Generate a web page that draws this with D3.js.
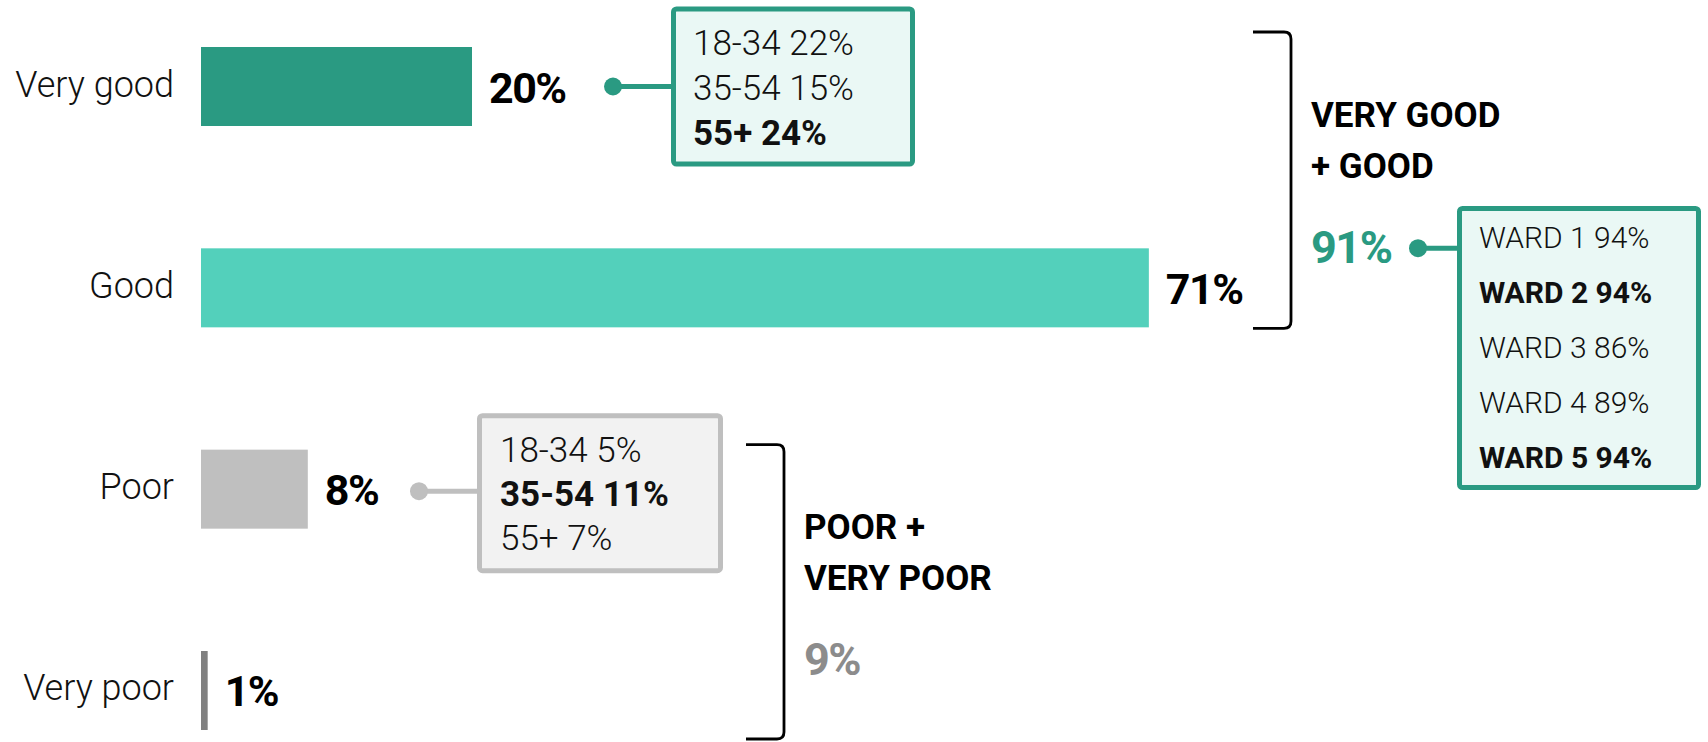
<!DOCTYPE html>
<html>
<head>
<meta charset="utf-8">
<script src="https://cdn.jsdelivr.net/npm/d3@7"></script>
<style>
  body { margin: 0; background: #fff; }
  svg text { font-family: "Roboto", "Noto Sans", sans-serif; }
</style>
</head>
<body>
<svg id="chart" width="1708" height="742"></svg>
<script>
// Data
const categories = ["Very good", "Good", "Poor", "Very poor"];
const values = [20.3, 71, 8, 0.5];
const valueLabels = ["20%", "71%", "8%", "1%"];
const barColours = ["#2a9a82", "#53d0bb", "#bfbfbf", "#808080"];

const ageGroups = ["18-34", "35-54", "55+"];
const goodByAge = [22, 15, 24];
const goodAgeBold = [false, false, true];
const poorByAge = [5, 11, 7];
const poorAgeBold = [false, true, false];

const wards = ["WARD 1", "WARD 2", "WARD 3", "WARD 4", "WARD 5"];
const goodByWard = [94, 94, 86, 89, 94];
const wardBold = [false, true, false, false, true];

const groupTitles = [["VERY GOOD", "+ GOOD"], ["POOR +", "VERY POOR"]];
const groupTotals = [91, 9];
const groupColours = ["#2a9a82", "#8c8c8c"];

// Layout
const teal = "#2a9a82";
const grey = "#bfbfbf";

const svg = d3.select("#chart");

const x = d3.scaleLinear().domain([0, 100]).range([201, 1536]);
const y = d3.scaleBand().domain(categories).range([47, 730]).paddingInner(0.6076).paddingOuter(0);
const bw = y.bandwidth();
const yc = c => y(c) + bw / 2;

// Bars
svg.append("g").selectAll("rect")
  .data(categories)
  .join("rect")
  .attr("x", x(0))
  .attr("y", d => y(d))
  .attr("width", (d, i) => x(values[i]) - x(0))
  .attr("height", bw)
  .attr("fill", (d, i) => barColours[i]);

// Category labels
svg.append("g").selectAll("text")
  .data(categories)
  .join("text")
  .attr("x", 174)
  .attr("y", d => yc(d) + 10)
  .attr("text-anchor", "end")
  .attr("font-size", 36)
  .attr("font-weight", 300)
  .attr("fill", "#111")
  .text(d => d);

// Value labels
svg.append("g").selectAll("text")
  .data(categories)
  .join("text")
  .attr("x", (d, i) => x(values[i]) + 17)
  .attr("y", d => yc(d) + 16)
  .attr("font-size", 43)
  .attr("font-weight", 700)
  .attr("fill", "#000")
  .attr("letter-spacing", -1.5)
  .text((d, i) => valueLabels[i]);

// Callout: dot, connector and box with lines of text
function callout(opts) {
  const g = svg.append("g");
  g.append("line")
    .attr("x1", opts.dotX).attr("x2", opts.boxX + 3)
    .attr("y1", opts.dotY).attr("y2", opts.dotY)
    .attr("stroke", opts.stroke).attr("stroke-width", 5);
  g.append("circle")
    .attr("cx", opts.dotX).attr("cy", opts.dotY).attr("r", 9)
    .attr("fill", opts.stroke);
  g.append("rect")
    .attr("x", opts.boxX + 2.5).attr("y", opts.boxY + 2.5)
    .attr("width", opts.boxW - 5).attr("height", opts.boxH - 5)
    .attr("rx", 3)
    .attr("fill", opts.fill).attr("stroke", opts.stroke).attr("stroke-width", 5);
  g.selectAll("text.line")
    .data(opts.lines)
    .join("text")
    .attr("class", "line")
    .attr("x", opts.boxX + opts.padX)
    .attr("y", (d, i) => opts.boxY + opts.firstBase + i * opts.lineGap)
    .attr("font-size", opts.fontSize)
    .attr("font-weight", d => d.bold ? 700 : 300)
    .attr("fill", "#111")
    .text(d => d.text);
}

callout({
  dotX: 613, dotY: yc("Very good"),
  boxX: 671, boxY: yc("Very good") - 80, boxW: 244, boxH: 160,
  fill: "#eaf8f5", stroke: teal,
  padX: 22, firstBase: 48, lineGap: 45, fontSize: 35,
  lines: ageGroups.map((a, i) => ({ text: a + " " + goodByAge[i] + "%", bold: goodAgeBold[i] }))
});

callout({
  dotX: 419, dotY: yc("Poor") + 2,
  boxX: 477, boxY: yc("Poor") - 76, boxW: 246, boxH: 160,
  fill: "#f2f2f2", stroke: grey,
  padX: 23, firstBase: 49, lineGap: 44, fontSize: 35,
  lines: ageGroups.map((a, i) => ({ text: a + " " + poorByAge[i] + "%", bold: poorAgeBold[i] }))
});

// Brackets with group totals
function bracket(x0, x1, top, bottom, idx) {
  const r = 7;
  svg.append("path")
    .attr("d", `M${x0},${top} L${x1 - r},${top} Q${x1},${top} ${x1},${top + r} L${x1},${bottom - r} Q${x1},${bottom} ${x1 - r},${bottom} L${x0},${bottom}`)
    .attr("fill", "none").attr("stroke", "#000").attr("stroke-width", 2.8);
  const mid = (top + bottom) / 2;
  const tx = x1 + 20;
  svg.append("g").selectAll("text")
    .data(groupTitles[idx])
    .join("text")
    .attr("x", tx)
    .attr("y", (d, i) => mid - 53 + i * 51)
    .attr("font-size", 35)
    .attr("font-weight", 700)
    .attr("fill", "#000")
    .text(d => d);
  svg.append("text")
    .attr("x", tx)
    .attr("y", mid + 83)
    .attr("font-size", 45)
    .attr("font-weight", 700)
    .attr("letter-spacing", -1.5)
    .attr("fill", groupColours[idx])
    .text(groupTotals[idx] + "%");
  return mid + 83 - 15;
}

const wardDotY = bracket(1253, 1291, y("Very good") - 15, y("Good") + bw + 1, 0);
bracket(746, 784, y("Poor") - 5, y("Very poor") + bw + 9, 1);

callout({
  dotX: 1418, dotY: wardDotY,
  boxX: 1457, boxY: 206, boxW: 244, boxH: 284,
  fill: "#eaf8f5", stroke: teal,
  padX: 22, firstBase: 42, lineGap: 55, fontSize: 30,
  lines: wards.map((w, i) => ({ text: w + " " + goodByWard[i] + "%", bold: wardBold[i] }))
});
</script>
</body>
</html>
